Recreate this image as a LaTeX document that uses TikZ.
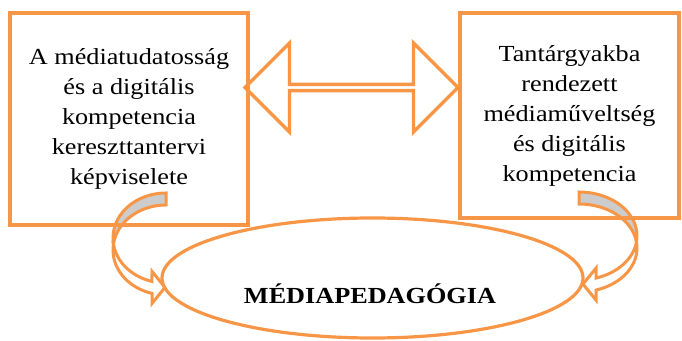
\documentclass[tikz,border=0pt]{standalone}
\usepackage{fontspec}
\setmainfont[FakeStretch=1.14]{Liberation Serif}
\usepackage{tikz}
\usetikzlibrary{shapes.geometric,shapes.arrows}
\definecolor{mporange}{RGB}{247,150,70}
\pgfdeclarelayer{background}
\pgfsetlayers{background,main}

\begin{document}
\begin{tikzpicture}[
    x=1pt, y=1pt,
    every node/.style={font=\fontsize{23}{30}\selectfont},
    framebox/.style={draw=mporange, line width=3.6pt, align=center, inner sep=0pt},
    bendarrow/.style={draw=mporange, line width=3pt, line join=miter}
]
\useasboundingbox (0,0) rectangle (682,340);

\node[
      framebox,
      minimum width=238pt,
      minimum height=212pt
] (crossbox) at (129,221) {A médiatudatosság\\ és a digitális\\ kompetencia\\ kereszttantervi\\ képviselete};
\node[
      framebox,
      minimum width=219pt,
      minimum height=205pt
] (subjbox) at (569.5,224.5) {Tantárgyakba\\ rendezett\\ médiaműveltség\\ és digitális\\ kompetencia};

\node[
      double arrow,
      draw=mporange,
      line width=3.4pt,
      minimum height=213pt,%< -- length from tip to tip
      minimum width=89pt,
      double arrow head extend=23pt,
      inner sep=0pt
] (link) at (351.5,252.5) {};

\node[
      ellipse,
      draw=mporange,
      fill=white,
      line width=3.2pt,
      minimum width=421pt,
      minimum height=120pt
] (mped) at (372.5,62) {};
\node[anchor=base, font=\fontsize{23}{30}\selectfont\bfseries] (mpedlabel) at (370,37) {MÉDIAPEDAGÓGIA};

\begin{pgfonlayer}{background}
\coordinate (ltail) at (166,147);
\coordinate (lfold) at (113.47,96);
\coordinate (rtail) at (579,148);
\coordinate (rfold) at (636.46,98);
% left bent arrow: back side, then front side with head
\filldraw[bendarrow, fill=gray!40] (ltail)
    arc[start angle=90, end angle=187.66, x radius=53, y radius=45]
    arc[start angle=172.34, end angle=90, x radius=53, y radius=45] -- cycle;
\filldraw[bendarrow, fill=white] (lfold)
    arc[start angle=187.66, end angle=254.68, x radius=53, y radius=45]
    -- (152,68.6) -- (165,52.6) -- (152,36.6) -- (152,46.6)
    arc[start angle=254.68, end angle=172.34, x radius=53, y radius=45] -- cycle;
% right bent arrow
\filldraw[bendarrow, fill=gray!40] (rtail)
    arc[start angle=90, end angle=-7.84, x radius=58, y radius=44]
    arc[start angle=7.84, end angle=90, x radius=58, y radius=44] -- cycle;
\filldraw[bendarrow, fill=white] (rfold)
    arc[start angle=-7.84, end angle=-72.96, x radius=58, y radius=44]
    -- (596,71.9) -- (583,55.9) -- (596,39.9) -- (596,49.9)
    arc[start angle=-72.96, end angle=7.84, x radius=58, y radius=44] -- cycle;
\end{pgfonlayer}
\end{tikzpicture}
\end{document}
